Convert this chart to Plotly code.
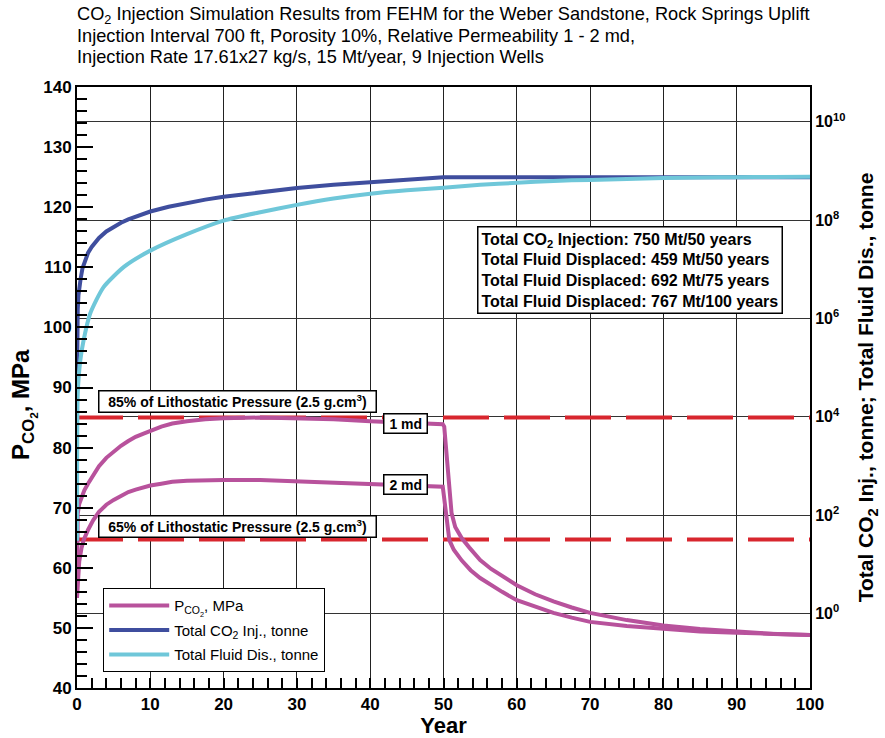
import plotly.graph_objects as go

# ---------------- data ----------------
years_p1 = [0, 0.03, 0.1, 0.3, 0.6, 1, 1.5, 2.2, 3, 4, 5, 6, 7, 8, 9, 10, 11.5, 13, 15, 17.5, 20,
            25, 30, 35, 40, 45, 49.9, 50.1, 51.1, 51.6, 52.5, 53.5, 55, 56.5, 58, 60, 62.5, 65, 67.5,
            70, 75, 80, 85, 90, 95, 100]
p_1md = [55, 63, 69, 70.6, 71.8, 72.9, 74.0, 75.5, 76.9, 78.3, 79.4, 80.3, 81.1, 81.8, 82.3, 82.8, 83.5,
         84.0, 84.4, 84.7, 84.9,
         85.0, 84.9, 84.7, 84.4, 84.1, 83.9, 83.5, 69.1, 66.8, 64.9, 63.4, 61.3, 59.8, 58.6, 57.1, 55.6,
         54.4, 53.4, 52.5, 51.3, 50.4, 49.8, 49.4, 49.0, 48.8]

years_p2 = [0, 0.1, 0.3, 0.6, 0.9, 1.5, 2.2, 3, 4, 5, 6, 7, 8, 9, 10, 11.5, 13, 15, 17.5, 20,
            25, 30, 35, 40, 45, 49.9, 50.8, 51.4, 52.5, 53.7, 55, 56.5, 58, 60, 62.5, 65, 67.5,
            70, 75, 80, 85, 90, 95, 100]
p_2md = [55, 58, 61, 63.2, 64.6, 66.3, 67.9, 69.3, 70.5, 71.3, 72.0, 72.6, 73.0, 73.4, 73.7, 74.0, 74.3,
         74.5, 74.6, 74.6,
         74.6, 74.4, 74.2, 74.0, 73.8, 73.5, 64.6, 63.0, 61.2, 59.6, 58.3, 57.1, 56.0, 54.6, 53.5,
         52.5, 51.7, 51.0, 50.3, 49.8, 49.4, 49.2, 49.0, 48.8]

years_inj = [0.003, 0.01, 0.03, 0.1, 0.2, 0.35, 0.5, 0.75, 1, 1.5, 2, 2.5, 3, 4, 5, 6, 7, 8.5, 10,
             12.5, 15, 17.5, 20, 25, 30, 35, 40, 45, 50, 60, 70, 80, 90, 100]
co2_inj = [4.5e4, 1.5e5, 4.5e5, 1.5e6, 3.0e6, 5.0e6, 6.5e6, 1.05e7, 1.4e7, 2.15e7, 2.85e7, 3.6e7,
           4.35e7, 5.9e7, 7.4e7, 8.9e7, 1.04e8, 1.27e8, 1.5e8, 1.87e8, 2.25e8, 2.62e8, 3.0e8,
           3.75e8, 4.5e8, 5.25e8, 6.0e8, 6.75e8, 7.5e8, 7.5e8, 7.5e8, 7.5e8, 7.5e8, 7.5e8]

years_fl = [0.002, 0.01, 0.03, 0.1, 0.45, 0.9, 1.8, 3.6, 6.4, 10, 15, 20, 25, 30, 35, 40, 45, 50,
            55, 60, 65, 70, 75, 80, 85, 90, 95, 100]
fluid_dis = [30, 1.3e2, 3.2e3, 3.0e4, 1.4e5, 3.6e5, 1.26e6, 4.3e6, 1.12e7, 2.4e7, 5.2e7, 9.8e7, 1.45e8,
             2.05e8, 2.75e8, 3.45e8, 4.05e8, 4.59e8, 5.25e8, 5.75e8, 6.3e8, 6.6e8, 6.92e8, 7.2e8,
             7.4e8, 7.5e8, 7.6e8, 7.67e8]

litho_85 = 85.0
litho_65 = 64.7
x_span = [0, 100]

right_tickvals = [1, 1e2, 1e4, 1e6, 1e8, 1e10]
right_ticktext = ["10<sup>0</sup>", "10<sup>2</sup>", "10<sup>4</sup>", "10<sup>6</sup>",
                  "10<sup>8</sup>", "10<sup>10</sup>"]

title_lines = ["CO<sub>2</sub> Injection Simulation Results from FEHM for the Weber Sandstone, Rock Springs Uplift",
               "Injection Interval 700 ft, Porosity 10%, Relative Permeability 1 - 2 md,",
               "Injection Rate 17.61x27 kg/s, 15 Mt/year, 9 Injection Wells"]

summary_lines = ["Total CO<sub>2</sub> Injection: 750 Mt/50 years",
                 "Total Fluid Displaced: 459 Mt/50 years",
                 "Total Fluid Displaced: 692 Mt/75 years",
                 "Total Fluid Displaced: 767 Mt/100 years"]

# ---------------- styles ----------------
MAG = "#B8529C"
DBLUE = "#3F4E9E"
CYAN = "#6FC7D9"
RED = "#D8262E"
FONT = "Liberation Sans, Arial, sans-serif"

L, R, T, B = 77, 75, 87, 50
PW, PH = 885 - L - R, 738 - T - B

fig = go.Figure()

fig.add_trace(go.Scatter(x=x_span, y=[litho_85, litho_85], mode="lines",
                         line=dict(color=RED, width=4, dash="46px,15px"), showlegend=False,
                         hoverinfo="skip"))
fig.add_trace(go.Scatter(x=x_span, y=[litho_65, litho_65], mode="lines",
                         line=dict(color=RED, width=4, dash="46px,15px"), showlegend=False,
                         hoverinfo="skip"))

fig.add_trace(go.Scatter(x=years_p1, y=p_1md, mode="lines", line=dict(color=MAG, width=4),
                         name="P<sub>CO<sub>2</sub></sub>, MPa", legendgroup="a"))
fig.add_trace(go.Scatter(x=years_p2, y=p_2md, mode="lines", line=dict(color=MAG, width=4),
                         showlegend=False, legendgroup="a"))
fig.add_trace(go.Scatter(x=years_inj, y=co2_inj, mode="lines",
                         line=dict(color=DBLUE, width=4),
                         name="Total CO<sub>2</sub> Inj., tonne", yaxis="y2", legendgroup="b"))
fig.add_trace(go.Scatter(x=years_fl, y=fluid_dis, mode="lines",
                         line=dict(color=CYAN, width=4, shape="spline", smoothing=0.6),
                         name="Total Fluid Dis., tonne", yaxis="y2", legendgroup="c"))

ann = []
box = dict(bgcolor="white", bordercolor="black", borderwidth=1.5, borderpad=1,
           showarrow=False, xref="x", yref="y")
ann.append(dict(x=21.9, y=87.6,
                text="&nbsp;&nbsp;<b>85% of Lithostatic Pressure (2.5 g.cm<sup>3</sup>)</b>&nbsp;&nbsp;",
                font=dict(family=FONT, size=14, color="black"), **box))
ann.append(dict(x=21.9, y=66.9,
                text="&nbsp;&nbsp;<b>65% of Lithostatic Pressure (2.5 g.cm<sup>3</sup>)</b>&nbsp;&nbsp;",
                font=dict(family=FONT, size=14, color="black"), **box))
ann.append(dict(x=44.85, y=84.0, text="&nbsp;<b>1 md</b>&nbsp;",
                font=dict(family=FONT, size=14, color="black"), **box))
ann.append(dict(x=44.85, y=73.8, text="&nbsp;<b>2 md</b>&nbsp;",
                font=dict(family=FONT, size=14, color="black"), **box))
ann.append(dict(x=75.4, y=109.55, text="<b>" + "<br>".join(summary_lines) + "</b>", align="left",
                bgcolor="white", bordercolor="black", borderwidth=1.5, borderpad=3,
                showarrow=False, xref="x", yref="y",
                font=dict(family=FONT, size=16, color="black")))

# title lines at pixel rows 15, 36, 57
for i, line in enumerate(title_lines):
    ypx = 15 + 21 * i
    ann.append(dict(x=(75 - L) / PW, xref="paper", y=(T + PH - ypx) / PH, yref="paper",
                    xanchor="left", yanchor="middle", showarrow=False, text=line,
                    font=dict(family=FONT, size=18.2, color="black")))

# left axis title, placed where the reference has it (centre ~ x=23, y=405 px)
ann.append(dict(x=(23 - L) / PW, xref="paper", y=(T + PH - 405) / PH, yref="paper",
                xanchor="center", yanchor="middle", textangle=-90, showarrow=False,
                text="<b>P<sub>CO<sub>2</sub></sub>, MPa</b>",
                font=dict(family=FONT, size=24, color="black")))

fig.update_layout(
    width=885, height=738,
    margin=dict(l=L, r=R, t=T, b=B, autoexpand=False),
    paper_bgcolor="white", plot_bgcolor="white",
    font=dict(family=FONT, color="black"),
    xaxis=dict(range=[0, 100], dtick=10, tick0=0, ticks="inside", ticklen=10, tickcolor="black",
               tickwidth=2, automargin=False,
               minor=dict(dtick=2, ticks="inside", ticklen=10, tickwidth=2, tickcolor="black",
                          showgrid=False),
               showgrid=True, gridcolor="#222222", gridwidth=1.3,
               showline=True, linecolor="black", linewidth=2, mirror=True,
               tickfont=dict(family=FONT, size=17, weight="bold"),
               title=dict(text="<b>Year</b>", font=dict(family=FONT, size=22), standoff=2),
               zeroline=False),
    yaxis=dict(range=[40, 140], dtick=10, tick0=40, ticks="inside", ticklen=16, tickcolor="black",
               tickwidth=2, automargin=False,
               minor=dict(dtick=2, ticks="inside", ticklen=10, tickwidth=2, tickcolor="black",
                          showgrid=False),
               showgrid=False, showline=True, linecolor="black", linewidth=2, mirror=True,
               tickfont=dict(family=FONT, size=17, weight="bold"),
               zeroline=False),
    yaxis2=dict(type="log", range=[-1.52, 10.71], overlaying="y", side="right",
                tickvals=right_tickvals, ticktext=right_ticktext, ticks="", automargin=False,
                showgrid=True, gridcolor="#333333", gridwidth=1.3,
                showline=True, linecolor="black", linewidth=2,
                tickfont=dict(family=FONT, size=16, weight="bold"),
                title=dict(text="<b>Total CO<sub>2</sub> Inj., tonne; Total Fluid Dis., tonne</b>",
                           font=dict(family=FONT, size=21), standoff=14),
                zeroline=False),
    legend=dict(x=(103 - L) / PW, y=(T + PH - 588) / PH, xanchor="left", yanchor="top", bgcolor="white",
                bordercolor="black", borderwidth=1.2, itemwidth=60,
                font=dict(family=FONT, size=15, color="black"), tracegroupgap=2),
    annotations=ann,
    showlegend=True,
)

fig.write_html("out.html")
